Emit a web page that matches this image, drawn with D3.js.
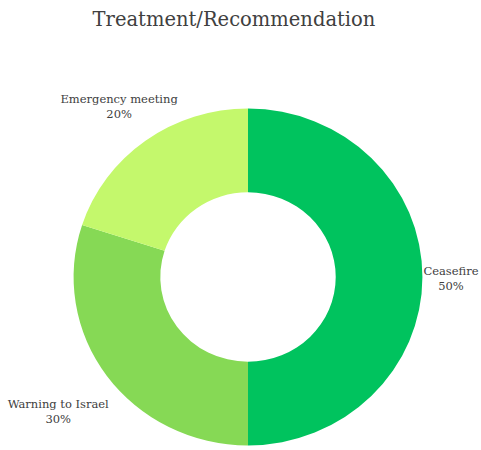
<!DOCTYPE html>
<html>
<head>
<meta charset="utf-8">
<script src="https://cdn.jsdelivr.net/npm/d3@7"></script>
<style>
    body { margin: 0; background: #fff; }
    svg { display: block; }
</style>
</head>
<body>
<div id="chart"></div>
<script>

// data
const categories = ['Ceasefire', 'Warning to Israel', 'Emergency meeting']
const values = [50, 30, 20]
const percentLabels = ['50%', '30%', '20%']
const colors = ['#00c35e', '#86d955', '#c4f86c']

// label distance from the centre, per slice
const labelRadius = [199, 230, 215]

const width = 481, height = 450
const cx = 248, cy = 277
const outerR = 171, innerR = 86

let svg = d3.select('#chart').append('svg')
    .attr('width', width)
    .attr('height', height)

// title
svg.append('text')
    .attr('x', 234)
    .attr('y', 26)
    .attr('text-anchor', 'middle')
    .style('font-family', 'DejaVu Serif, serif')
    .style('font-size', '19.5px')
    .style('fill', '#404040')
    .text('Treatment/Recommendation')

let g = svg.append('g')
    .attr('transform', `translate(${cx}, ${cy}) scale(1.02, 0.985)`)

let data = categories.map((c, i) => ({name: c, value: values[i], pct: percentLabels[i], color: colors[i], lr: labelRadius[i]}))

let pie = d3.pie()
    .sort(null)
    .value(d => d.value)

let arc = d3.arc()
    .innerRadius(innerR)
    .outerRadius(outerR)

let arcs = pie(data)

g.selectAll('.slice')
    .data(arcs)
    .enter()
    .append('path')
    .attr('class', 'slice')
    .attr('d', arc)
    .style('fill', d => d.data.color)

// labels
let labels = g.selectAll('.label')
    .data(arcs)
    .enter()
    .append('text')
    .attr('class', 'label')
    .attr('transform', d => {
        let a = (d.startAngle + d.endAngle) / 2
        let x = Math.sin(a) * d.data.lr
        let y = -Math.cos(a) * d.data.lr
        return `translate(${x}, ${y}) scale(${1 / 1.02}, ${1 / 0.985})`
    })
    .attr('text-anchor', 'middle')
    .style('font-family', 'DejaVu Serif, serif')
    .style('font-size', '11.5px')
    .style('fill', '#404040')

labels.append('tspan')
    .attr('x', 0)
    .attr('dy', '-0.2em')
    .text(d => d.data.name)

labels.append('tspan')
    .attr('x', 0)
    .attr('dy', '1.3em')
    .text(d => d.data.pct)

</script>
</body>
</html>
